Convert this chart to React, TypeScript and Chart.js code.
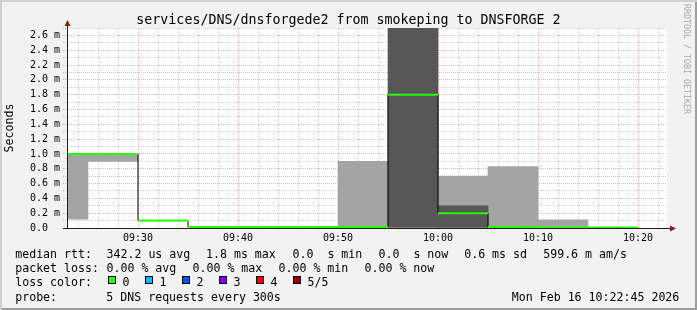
import React, { useEffect, useRef } from "react";
import { Chart, registerables } from "chart.js";

Chart.register(...registerables);

// ---------- texts ----------
const TITLE = "services/DNS/dnsforgede2 from smokeping to DNSFORGE 2";
const Y_TITLE = "Seconds";
const WATERMARK = "RRDTOOL / TOBI OETIKER";

// ---------- data ----------
const stepStarts = ["09:20", "09:25", "09:30", "09:35", "09:40", "09:45", "09:50", "09:55", "10:00", "10:05", "10:10", "10:15"];
const STEP_MINUTES = 5;
const medianMs = [1.0, 1.0, 0.1, 0.012, 0.012, 0.012, 0.012, 1.8, 0.2, 0.012, 0.006, 0.006];
const smokeLightLow: (number | null)[] = [0.12, 0.9, null, null, null, null, 0, null, 0, 0, 0, null];
const smokeLightHigh: (number | null)[] = [1.0, 1.0, null, null, null, null, 0.9, null, 0.7, 0.83, 0.11, null];
const smokeDarkLow: (number | null)[] = [null, null, null, null, null, null, null, 0, 0, null, null, null];
const smokeDarkHigh: (number | null)[] = [null, null, null, null, null, null, null, 3.0, 0.3, null, null, null];

const xRange = ["09:22:54", "10:22:54"];
const xMajorLabels = ["09:30", "09:40", "09:50", "10:00", "10:10", "10:20"];
const X_MINOR_MINUTES = 2;
const Y_MAX_MS = 2.7;
const Y_MINOR_STEP = 0.1;
const yMajorValues = [0, 0.2, 0.4, 0.6, 0.8, 1.0, 1.2, 1.4, 1.6, 1.8, 2.0, 2.2, 2.4, 2.6];
const yMajorLabels = ["0.0  ", "0.2 m", "0.4 m", "0.6 m", "0.8 m", "1.0 m", "1.2 m", "1.4 m", "1.6 m", "1.8 m", "2.0 m", "2.2 m", "2.4 m", "2.6 m"];

const rttLabel = "median rtt:";
const rttStats = ["342.2 us avg", "1.8 ms max", "0.0  s min", "0.0  s now", "0.6 ms sd", "599.6 m am/s"];
const lossLabel = "packet loss:";
const lossStats = ["0.00 % avg", "0.00 % max", "0.00 % min", "0.00 % now"];
const lossColorLabel = "loss color:";
const lossColorNames = ["0", "1", "2", "3", "4", "5/5"];
const lossColors = ["#26ff00", "#00b8ff", "#0059ff", "#7e00ff", "#ff0000", "#a10000"];
const probeLabel = "probe:";
const probeText = "5 DNS requests every 300s";
const timestampText = "Mon Feb 16 10:22:45 2026";

// ---------- layout (positions / styles) ----------
const W = 697;
const H = 310;
const MONO = '"DejaVu Sans Mono", monospace';
const LEG_F = 11.6;
const legendBaselines = [258.4, 272.8, 287.1, 301.4];
const LEG_LEFT = 15.2;
const STAT_COL = 106.5;
const rttStatX = [106.5, 206, 292.5, 378.5, 464.2, 543.2];
const lossStatX = [106.5, 192.5, 278.5, 364.5];
const SWATCH_X0 = 108;
const SWATCH_DX = 37;
const TIMESTAMP_X = 511.8;

const GRID = "rgba(140,140,140,0.42)";
const MGRID = "rgba(222,60,60,0.42)";
const SMOKE_LIGHT = "#a4a4a4";
const SMOKE_DARK = "#575757";

const toMin = (s: string) => {
  const [h, m, sec] = s.split(":").map(Number);
  return h * 60 + m + (sec || 0) / 60;
};

const near = (a: number, b: number) => Math.abs(a - b) < 1e-6;

function fmtTop(baseline: number, size: number) {
  return baseline - 0.846 * size;
}

const Txt = ({ x, baseline, size = LEG_F, children, style }: any) => (
  <div
    style={{
      position: "absolute",
      left: x,
      top: fmtTop(baseline, size),
      fontFamily: MONO,
      fontSize: size,
      lineHeight: `${size}px`,
      whiteSpace: "pre",
      color: "#000",
      ...style,
    }}
  >
    {children}
  </div>
);

export default function App() {
  const ref = useRef<HTMLCanvasElement | null>(null);

  useEffect(() => {
    const canvas = ref.current;
    if (!canvas) return;

    const xMin = toMin(xRange[0]);
    const xMax = toMin(xRange[1]);
    const starts = stepStarts.map(toMin);
    const centers = starts.map((s) => s + STEP_MINUTES / 2);

    const lightData = centers
      .map((c, i) => (smokeLightLow[i] == null ? null : { x: c, y: [smokeLightLow[i], smokeLightHigh[i]] }))
      .filter(Boolean);
    const darkData = centers
      .map((c, i) => (smokeDarkLow[i] == null ? null : { x: c, y: [smokeDarkLow[i], smokeDarkHigh[i]] }))
      .filter(Boolean);

    const medianPts: any[] = starts.map((s, i) => ({ x: s, y: medianMs[i] }));
    medianPts.push({ x: starts[starts.length - 1] + STEP_MINUTES, y: medianMs[medianMs.length - 1] });

    const greenPts: any[] = [];
    starts.forEach((s, i) => {
      greenPts.push({ x: s, y: medianMs[i] });
      greenPts.push({ x: s + STEP_MINUTES, y: medianMs[i] });
      greenPts.push({ x: s + STEP_MINUTES, y: null });
    });

    const xMajorMins = xMajorLabels.map(toMin);
    const xTicks: number[] = [];
    for (let v = Math.ceil(xMin / X_MINOR_MINUTES) * X_MINOR_MINUTES; v < xMax; v += X_MINOR_MINUTES) xTicks.push(v);
    const yTicks: number[] = [];
    for (let i = 0; i * Y_MINOR_STEP <= Y_MAX_MS + 1e-9; i++) yTicks.push(Math.round(i * Y_MINOR_STEP * 10) / 10);

    const isXMajor = (v: number) => xMajorMins.some((m) => near(m, v));
    const isYMajor = (v: number) => yMajorValues.some((m) => near(m, v));

    const rrdPlugin = {
      id: "rrd",
      beforeDraw(chart: any) {
        const { ctx, chartArea } = chart;
        ctx.save();
        ctx.fillStyle = "#ffffff";
        ctx.fillRect(chartArea.left, chartArea.top, chartArea.right - chartArea.left, chartArea.bottom - chartArea.top);
        ctx.restore();
      },
      afterDraw(chart: any) {
        const { ctx, chartArea } = chart;
        const { left, right, top, bottom } = chartArea;
        const ax = left + 0.5;
        const ay = bottom + 0.5;
        ctx.save();
        ctx.strokeStyle = "#202020";
        ctx.lineWidth = 1;
        ctx.beginPath();
        ctx.moveTo(ax, ay);
        ctx.lineTo(ax, top - 4);
        ctx.moveTo(left - 4, ay);
        ctx.lineTo(right + 4, ay);
        ctx.stroke();
        ctx.fillStyle = "#8b1a1a";
        ctx.beginPath();
        ctx.moveTo(ax - 3, top - 2);
        ctx.lineTo(ax, top - 8);
        ctx.lineTo(ax + 3, top - 2);
        ctx.closePath();
        ctx.fill();
        ctx.beginPath();
        ctx.moveTo(right + 3, ay - 3);
        ctx.lineTo(right + 9, ay);
        ctx.lineTo(right + 3, ay + 3);
        ctx.closePath();
        ctx.fill();
        ctx.restore();
      },
    };

    const tickFont = { family: MONO, size: 10 };

    const chart = new Chart(canvas, {
      type: "line",
      data: {
        datasets: [
          {
            type: "line",
            label: "median (loss color)",
            data: greenPts,
            borderColor: lossColors[0],
            borderWidth: 2,
            pointRadius: 0,
            spanGaps: false,
            order: 0,
            xAxisID: "x",
            yAxisID: "y",
          },
          {
            type: "line",
            label: "median rtt",
            data: medianPts,
            stepped: true,
            borderColor: "#000000",
            borderWidth: 1,
            pointRadius: 0,
            order: 1,
            xAxisID: "x",
            yAxisID: "y",
          },
          {
            type: "bar",
            label: "smoke inner",
            data: darkData as any,
            backgroundColor: SMOKE_DARK,
            borderWidth: 0,
            grouped: false,
            barPercentage: 1,
            categoryPercentage: 1,
            order: 2,
            xAxisID: "xs",
            yAxisID: "y",
          },
          {
            type: "bar",
            label: "smoke outer",
            data: lightData as any,
            backgroundColor: SMOKE_LIGHT,
            borderWidth: 0,
            grouped: false,
            barPercentage: 1,
            categoryPercentage: 1,
            order: 3,
            xAxisID: "xs",
            yAxisID: "y",
          },
        ] as any,
      },
      options: {
        responsive: false,
        maintainAspectRatio: false,
        animation: false,
        devicePixelRatio: 1,
        events: [],
        layout: { padding: { left: 0, right: 30, top: 28, bottom: 0 } },
        plugins: { legend: { display: false }, tooltip: { enabled: false }, title: { display: false } },
        scales: {
          x: {
            type: "linear",
            position: "bottom",
            min: xMin,
            max: xMax,
            offset: false,
            z: 1,
            afterBuildTicks: (axis: any) => {
              axis.ticks = xTicks.map((v) => ({ value: v }));
            },
            afterFit: (s: any) => {
              s.height = 82;
            },
            border: { display: false, dash: [1, 1] },
            grid: {
              offset: false,
              drawTicks: false,
              color: (c: any) => (isXMajor(c.tick?.value) ? MGRID : GRID),
              lineWidth: 1,
            },
            ticks: {
              autoSkip: false,
              maxRotation: 0,
              minRotation: 0,
              padding: 4,
              color: "#000",
              font: tickFont,
              callback: (v: any) => {
                const i = xMajorMins.findIndex((m) => near(m, Number(v)));
                return i >= 0 ? xMajorLabels[i] : "";
              },
            },
          },
          xs: {
            type: "linear",
            position: "bottom",
            display: false,
            min: xMin,
            max: xMax,
            offset: false,
            afterBuildTicks: (axis: any) => {
              axis.ticks = [{ value: xMin }, { value: xMax }];
            },
            grid: { offset: false },
          },
          y: {
            type: "linear",
            position: "left",
            min: 0,
            max: Y_MAX_MS,
            z: 1,
            afterBuildTicks: (axis: any) => {
              axis.ticks = yTicks.map((v) => ({ value: v }));
            },
            afterFit: (s: any) => {
              s.width = 67;
            },
            border: { display: false, dash: [1, 1] },
            grid: {
              drawTicks: true,
              tickLength: 4,
              tickBorderDash: [1, 1],
              color: (c: any) => (isYMajor(c.tick?.value) ? MGRID : GRID),
              tickColor: (c: any) => (isYMajor(c.tick?.value) ? MGRID : GRID),
              lineWidth: 1,
            },
            title: {
              display: true,
              text: Y_TITLE,
              color: "#000",
              font: { family: MONO, size: LEG_F },
              padding: { top: 3, bottom: 0 },
            },
            ticks: {
              autoSkip: false,
              padding: 3,
              color: "#000",
              font: tickFont,
              callback: (v: any) => {
                const i = yMajorValues.findIndex((m) => near(m, Number(v)));
                return i >= 0 ? yMajorLabels[i] : "";
              },
            },
          },
        } as any,
      },
      plugins: [rrdPlugin],
    });

    return () => chart.destroy();
  }, []);

  return (
    <div
      style={{
        position: "fixed",
        left: 0,
        top: 0,
        width: W,
        height: H,
        overflow: "hidden",
        background: "#f2f2f2",
        boxShadow: "inset 2px 2px 0 #cfcfcf, inset -2px -2px 0 #9e9e9e",
      }}
    >
      <canvas ref={ref} width={W} height={H} style={{ position: "absolute", left: 0, top: 0, width: W, height: H }} />
      <Txt x={0} baseline={24} size={13.3} style={{ width: W, textAlign: "center" }}>
        {TITLE}
      </Txt>
      <div
        style={{
          position: "absolute",
          left: 691,
          top: 4,
          transform: "rotate(90deg)",
          transformOrigin: "0 0",
          fontFamily: MONO,
          fontSize: 8.3,
          lineHeight: "8.3px",
          whiteSpace: "pre",
          color: "#aaaaaa",
        }}
      >
        {WATERMARK}
      </div>

      <Txt x={LEG_LEFT} baseline={legendBaselines[0]}>{rttLabel}</Txt>
      {rttStats.map((t, i) => (
        <Txt key={"r" + i} x={rttStatX[i]} baseline={legendBaselines[0]}>{t}</Txt>
      ))}

      <Txt x={LEG_LEFT} baseline={legendBaselines[1]}>{lossLabel}</Txt>
      {lossStats.map((t, i) => (
        <Txt key={"l" + i} x={lossStatX[i]} baseline={legendBaselines[1]}>{t}</Txt>
      ))}

      <Txt x={LEG_LEFT} baseline={legendBaselines[2]}>{lossColorLabel}</Txt>
      {lossColorNames.map((t, i) => (
        <React.Fragment key={"c" + i}>
          <div
            style={{
              position: "absolute",
              left: SWATCH_X0 + SWATCH_DX * i,
              top: 276,
              width: 8,
              height: 8,
              boxSizing: "border-box",
              border: "1px solid #000",
              background: lossColors[i],
            }}
          />
          <Txt x={SWATCH_X0 + SWATCH_DX * i + 14.5} baseline={legendBaselines[2]}>{t}</Txt>
        </React.Fragment>
      ))}

      <Txt x={LEG_LEFT} baseline={legendBaselines[3]}>{probeLabel}</Txt>
      <Txt x={STAT_COL - 0.2} baseline={legendBaselines[3]}>{probeText}</Txt>
      <Txt x={TIMESTAMP_X} baseline={legendBaselines[3]}>{timestampText}</Txt>
    </div>
  );
}
